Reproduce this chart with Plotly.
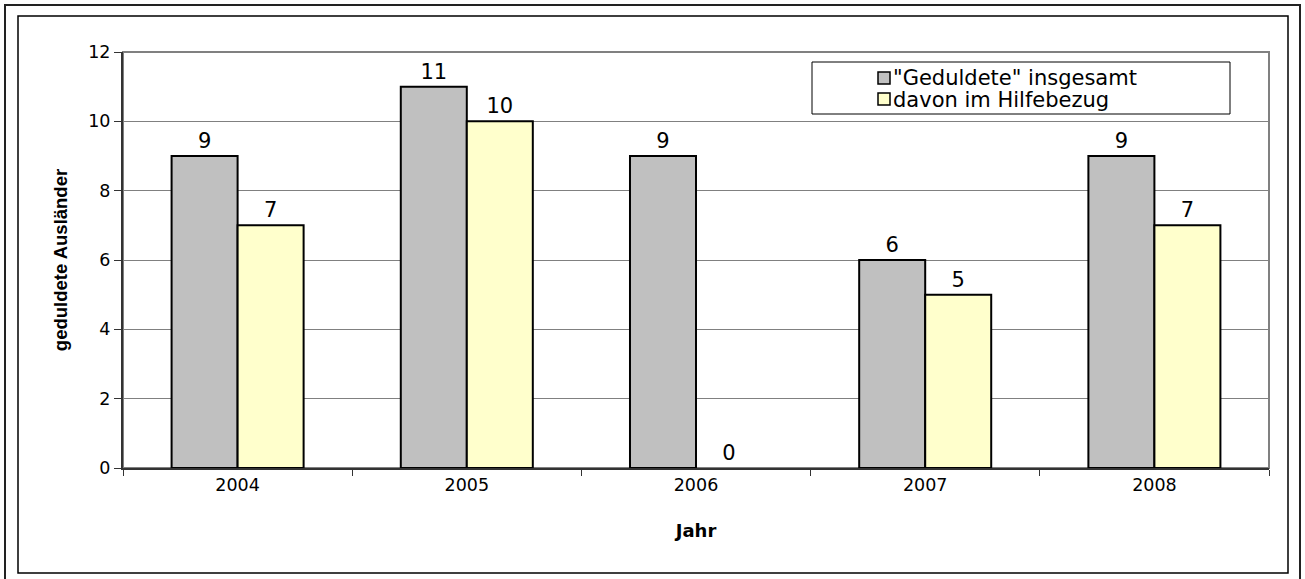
import plotly.graph_objects as go

years = ["2004", "2005", "2006", "2007", "2008"]
geduldete = [9, 11, 9, 6, 9]
hilfebezug = [7, 10, 0, 5, 7]
series_names = ['"Geduldete" insgesamt', "davon im Hilfebezug"]
y_ticks = [0, 2, 4, 6, 8, 10, 12]

W, H = 1305, 579
L, R, T, B = 123, 36, 52, 111
PW, PH = W - L - R, H - T - B


def px(x):
    return (x - L) / PW


def py(y):
    return (H - B - y) / PH


FONT = "DejaVu Sans"
AFONT = "Liberation Sans"


def outline(vals):
    return [2 if v > 0 else 0 for v in vals]


fig = go.Figure()
fig.add_trace(go.Bar(
    x=years, y=geduldete, name=series_names[0],
    marker=dict(color="#C0C0C0", line=dict(color="black", width=outline(geduldete))),
    text=[str(v) for v in geduldete], textposition="outside",
    textfont=dict(family=FONT, size=21, color="black"), cliponaxis=False,
))
fig.add_trace(go.Bar(
    x=years, y=hilfebezug, name=series_names[1],
    marker=dict(color="#FFFFCC", line=dict(color="black", width=outline(hilfebezug))),
    text=[str(v) for v in hilfebezug], textposition="outside",
    textfont=dict(family=FONT, size=21, color="black"), cliponaxis=False,
))

shapes = [
    # plot area border
    dict(type="rect", xref="paper", yref="paper", x0=0, x1=1, y0=0, y1=1,
         line=dict(color="#808080", width=2), layer="below"),
    # outer frame
    dict(type="rect", xref="paper", yref="paper", x0=px(5), x1=px(1300), y0=py(5), y1=py(590),
         line=dict(color="#222222", width=2)),
    # inner frame
    dict(type="rect", xref="paper", yref="paper", x0=px(18), x1=px(1288), y0=py(16), y1=py(573),
         line=dict(color="black", width=1.5)),
    # legend box
    dict(type="rect", xref="paper", yref="paper", x0=px(812), x1=px(1230), y0=py(62), y1=py(114),
         line=dict(color="black", width=1), fillcolor="white"),
    dict(type="rect", xref="paper", yref="paper", x0=px(878), x1=px(890), y0=py(72), y1=py(84),
         line=dict(color="black", width=1.5), fillcolor="#C0C0C0"),
    dict(type="rect", xref="paper", yref="paper", x0=px(878), x1=px(890), y0=py(93), y1=py(105),
         line=dict(color="black", width=1.5), fillcolor="#FFFFCC"),
]

annotations = [
    dict(xref="paper", yref="paper", x=px(891), y=py(78), text=series_names[0],
         showarrow=False, xanchor="left", yanchor="middle",
         font=dict(family=FONT, size=21, color="black")),
    dict(xref="paper", yref="paper", x=px(891), y=py(99.5), text=series_names[1],
         showarrow=False, xanchor="left", yanchor="middle",
         font=dict(family=FONT, size=21, color="black")),
]

fig.update_layout(
    width=W, height=H,
    margin=dict(l=L, r=R, t=T, b=B),
    paper_bgcolor="white", plot_bgcolor="white",
    barmode="group", bargap=0.424, bargroupgap=0,
    showlegend=False,
    shapes=shapes, annotations=annotations,
    xaxis=dict(
        type="category", showline=True, linecolor="#333333", linewidth=2,
        ticks="outside", tickson="boundaries", ticklen=6, tickcolor="#333333",
        tickfont=dict(family=FONT, size=17.5, color="black"),
        title=dict(text="<b>Jahr</b>", font=dict(family=FONT, size=18, color="black"), standoff=30),
        showgrid=False,
    ),
    yaxis=dict(
        range=[0, 12], tickvals=y_ticks, showline=True, linecolor="#333333", linewidth=2,
        ticks="outside", ticklen=7, tickcolor="#333333",
        tickfont=dict(family=FONT, size=17.5, color="black"),
        showgrid=True, gridcolor="#808080", gridwidth=1,
        zeroline=False,
        title=dict(text="<b>geduldete Ausländer</b>", font=dict(family=AFONT, size=18.5, color="black"), standoff=16),
    ),
)

fig.write_html("out.html")
